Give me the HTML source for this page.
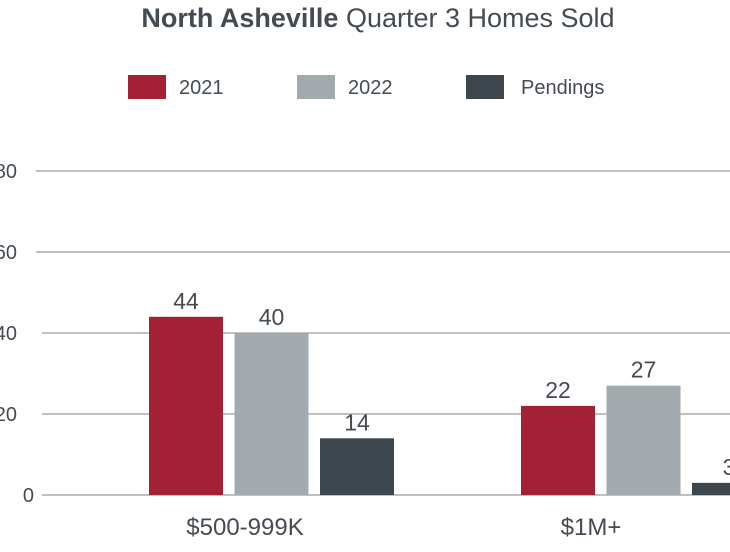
<!DOCTYPE html>
<html><head><meta charset="utf-8"><style>
body{margin:0;background:#fff;width:730px;height:547px;overflow:hidden;font-family:"Liberation Sans",sans-serif;}
svg text{font-family:"Liberation Sans",sans-serif;fill:#444b52;}
</style></head><body>
<svg width="730" height="547">
<text x="378" y="27" text-anchor="middle" font-size="27"><tspan font-weight="bold">North Asheville</tspan> Quarter 3 Homes Sold</text>
<g id="legend"></g>
<g id="grid"></g><g id="bars"></g>
</svg>
<script>
const categories=["$500-999K","$1M+"];
const series=["2021","2022","Pendings"];
const v2021=[44,22];
const v2022=[40,27];
const vPend=[14,3];
const ticks=[0,20,40,60,80];
const colors=["#a32135","#a2aaae","#3d464d"];
const NS="http://www.w3.org/2000/svg";
function el(t,a,p){const e=document.createElementNS(NS,t);for(const k in a)e.setAttribute(k,a[k]);p.appendChild(e);return e;}
const y=v=>495-v*4.05;
const x=(ci,si)=>149+ci*372+si*85.5;
const grid=document.getElementById('grid');
ticks.forEach(t=>{
 const l=el('line',{x1:t<60?42:36,x2:730,y1:y(t),y2:y(t),stroke:'#9a9a9a','stroke-width':1.2},grid);
 
 
 const tx=el('text',{x:String(t).length>1?17:34,y:y(t)+7,'text-anchor':'end','font-size':20},grid);
 tx.textContent=t;
 
 
});
const vals=[v2021,v2022,vPend];
const bars=document.getElementById('bars');
categories.forEach((c,ci)=>{
 vals.forEach((arr,si)=>{
  const r=el('rect',{x:x(ci,si),y:y(arr[ci]),width:74,height:arr[ci]*4.05,fill:colors[si]},bars);
  
  
  const t=el('text',{x:x(ci,si)+37,y:y(arr[ci])-8,'text-anchor':'middle','font-size':23},bars);
  t.textContent=arr[ci];
  
  
 });
 const ct=el('text',{x:x(ci,0)+96+(ci?-26:0),y:535,'text-anchor':'middle','font-size':24},bars);
 ct.textContent=c;
 
 
});
const lg=document.getElementById('legend');
const lx=[128,297,466];
series.forEach((s,i)=>{
 const r=el('rect',{x:lx[i],y:75,width:38,height:24,fill:colors[i]},lg);
 
 
 const t=el('text',{x:lx[i]+(i==2?55:51),y:94,'font-size':20},lg);
 t.textContent=s;
 
 
});
</script>
</body></html>
